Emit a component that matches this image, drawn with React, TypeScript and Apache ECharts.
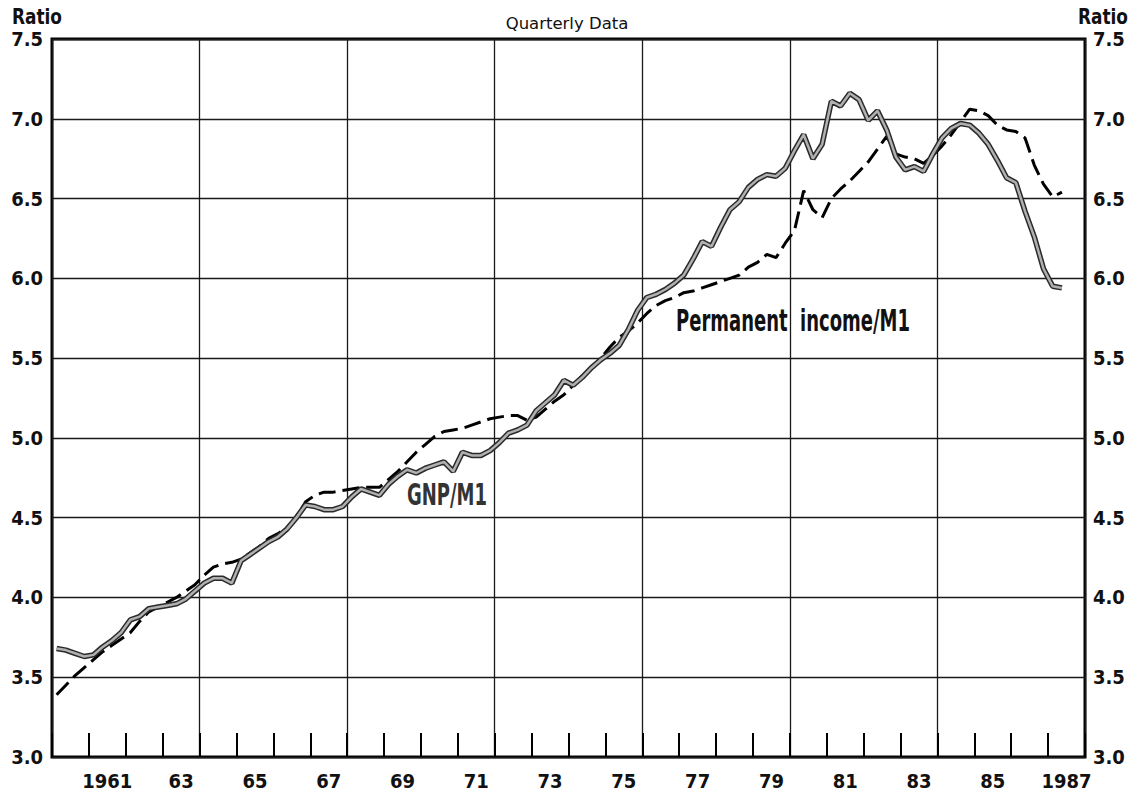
import React, { useEffect, useRef } from "react";
import * as echarts from "echarts";

// Quarterly data, 1960Q1 .. 1987Q2
const startYear = 1960;
const gnpM1 = [
  3.68, 3.67, 3.65, 3.63, 3.64, 3.69, 3.73, 3.78, 3.86, 3.88, 3.93, 3.94,
  3.95, 3.96, 3.99, 4.04, 4.09, 4.12, 4.12, 4.09, 4.23, 4.27, 4.31, 4.35,
  4.38, 4.43, 4.5, 4.58, 4.57, 4.55, 4.55, 4.57, 4.63, 4.68, 4.66, 4.64,
  4.71, 4.76, 4.8, 4.78, 4.81, 4.83, 4.85, 4.79, 4.91, 4.89, 4.89, 4.92,
  4.97, 5.03, 5.05, 5.08, 5.17, 5.22, 5.27, 5.36, 5.33, 5.38, 5.44, 5.49,
  5.53, 5.58, 5.68, 5.8, 5.88, 5.9, 5.93, 5.97, 6.02, 6.12, 6.23, 6.2,
  6.32, 6.43, 6.48, 6.57, 6.62, 6.65, 6.64, 6.69, 6.8, 6.9, 6.75, 6.84,
  7.11, 7.08, 7.16, 7.12, 6.99, 7.05, 6.93, 6.76, 6.68, 6.7, 6.67, 6.78,
  6.88, 6.94, 6.97, 6.96, 6.91, 6.84, 6.74, 6.63, 6.6, 6.42, 6.26, 6.06,
  5.95, 5.94,
];
const permIncomeM1 = [
  3.39, 3.45, 3.51, 3.56, 3.61, 3.66, 3.7, 3.74, 3.78, 3.85, 3.91, 3.94,
  3.97, 4.0, 4.04, 4.08, 4.14, 4.19, 4.21, 4.22, 4.24, 4.28, 4.32, 4.37,
  4.4, 4.44, 4.5, 4.6, 4.64, 4.66, 4.66, 4.67, 4.68, 4.69, 4.69, 4.69,
  4.74, 4.79, 4.85, 4.91, 4.96, 5.01, 5.04, 5.05, 5.06, 5.08, 5.1, 5.12,
  5.13, 5.14, 5.14, 5.11, 5.13, 5.18, 5.23, 5.27, 5.33, 5.39, 5.44, 5.5,
  5.57, 5.63, 5.67, 5.72, 5.78, 5.83, 5.86, 5.88, 5.91, 5.92, 5.94, 5.96,
  5.98, 6.0, 6.02, 6.07, 6.1, 6.15, 6.13, 6.22, 6.3, 6.55, 6.43, 6.38,
  6.5, 6.56, 6.61, 6.67, 6.73, 6.81, 6.89, 6.78, 6.76, 6.75, 6.72, 6.77,
  6.83, 6.9, 6.98, 7.06, 7.05, 7.02, 6.96, 6.93, 6.92, 6.88, 6.71, 6.59,
  6.51, 6.54,
];
const xLabelYears = [1961, 1963, 1965, 1967, 1969, 1971, 1973, 1975, 1977, 1979, 1981, 1983, 1985, 1987];
const xLabelTexts = ["1961", "63", "65", "67", "69", "71", "73", "75", "77", "79", "81", "83", "85", "1987"];
const yMin = 3.0;
const yMax = 7.5;
const yStep = 0.5;

const toPairs = (vals: number[]) => vals.map((v, i) => [startYear + (i + 0.5) / 4, v]);

const LABEL_FONT = '"DejaVu Sans Condensed", "Liberation Sans Narrow", "DejaVu Sans", sans-serif';
const HEAVY = "DejaVu Sans, sans-serif";

export default function App() {
  const ref = useRef<HTMLDivElement>(null);
  useEffect(() => {
    if (!ref.current) return;
    const chart = echarts.init(ref.current, null, { renderer: "svg" });
    const gridLine = { show: true, lineStyle: { color: "#1a1a1a", width: 1.3 } };
    const axisLabelStyle = {
      fontFamily: LABEL_FONT,
      fontWeight: "bold" as const,
      fontSize: 20,
      color: "#111",
    };
    const option: any = {
      animation: false,
      backgroundColor: "#ffffff",
      grid: {
        left: 52,
        right: 56,
        top: 39,
        bottom: 38,
        show: true,
        borderColor: "#000",
        borderWidth: 3,
        backgroundColor: "transparent",
      },
      xAxis: [
        {
          type: "value",
          position: "bottom",
          min: 1960,
          max: 1988,
          interval: 1,
          axisLine: { show: false },
          axisTick: { show: true, inside: true, length: 24, lineStyle: { color: "#000", width: 2 } },
          axisLabel: { show: false },
          splitLine: { show: false },
        },
        {
          type: "value",
          position: "bottom",
          min: 1960,
          max: 1988,
          interval: 4,
          axisLine: { show: false },
          axisTick: { show: false },
          axisLabel: { show: false },
          splitLine: gridLine,
        },
        {
          type: "value",
          position: "bottom",
          offset: 0,
          min: 1960,
          max: 1988,
          interval: 0.5,
          axisLine: { show: false },
          axisTick: { show: false },
          splitLine: { show: false },
          axisLabel: {
            ...axisLabelStyle,
            margin: 14,
            formatter: (v: number) => {
              const idx = xLabelYears.findIndex((y) => Math.abs(y + 0.5 - v) < 1e-6);
              return idx >= 0 ? xLabelTexts[idx] : "";
            },
          },
        },
      ],
      yAxis: [
        {
          type: "value",
          position: "left",
          min: yMin,
          max: yMax,
          interval: yStep,
          axisLine: { show: false },
          axisTick: { show: false },
          splitLine: gridLine,
          axisLabel: { ...axisLabelStyle, margin: 9, formatter: (v: number) => v.toFixed(1) },
        },
        {
          type: "value",
          position: "right",
          min: yMin,
          max: yMax,
          interval: yStep,
          axisLine: { show: false },
          axisTick: { show: false },
          splitLine: { show: false },
          axisLabel: { ...axisLabelStyle, margin: 8, formatter: (v: number) => v.toFixed(1) },
        },
      ],
      series: [
        {
          name: "Permanent income/M1",
          type: "line",
          data: toPairs(permIncomeM1),
          showSymbol: false,
          symbol: "none",
          lineStyle: { color: "#000", width: 3, type: [17, 7] },
          z: 3,
        },
        {
          name: "GNP/M1 outline",
          type: "line",
          data: toPairs(gnpM1),
          symbol: "none",
          lineStyle: { color: "#2a2a2a", width: 5.5 },
          z: 4,
        },
        {
          name: "GNP/M1",
          type: "line",
          data: toPairs(gnpM1),
          symbol: "none",
          lineStyle: { color: "#b0b0b0", width: 2.5 },
          z: 5,
        },
      ],
      graphic: [
        {
          type: "text",
          x: 37,
          y: 17,
          scaleX: 0.77,
          style: { text: "Ratio", font: `bold 22px ${HEAVY}`, fill: "#111", textAlign: "center", textVerticalAlign: "middle", align: "center", verticalAlign: "middle" },
        },
        {
          type: "text",
          x: 1103,
          y: 17,
          scaleX: 0.77,
          style: { text: "Ratio", font: `bold 22px ${HEAVY}`, fill: "#111", textAlign: "center", textVerticalAlign: "middle", align: "center", verticalAlign: "middle" },
        },
        {
          type: "text",
          x: 567,
          y: 24,
          scaleX: 1.1,
          style: { text: "Quarterly Data", font: `15px ${HEAVY}`, fill: "#111", textAlign: "center", textVerticalAlign: "middle", align: "center", verticalAlign: "middle" },
        },
        {
          type: "text",
          x: 447,
          y: 495,
          scaleX: 0.6,
          z: 10,
          style: { text: "GNP/M1", font: `bold 30px ${HEAVY}`, fill: "#333", textAlign: "center", textVerticalAlign: "middle", align: "center", verticalAlign: "middle" },
        },
        {
          type: "text",
          x: 793,
          y: 321,
          scaleX: 0.6,
          z: 10,
          style: { text: "Permanent  income/M1", font: `bold 30px ${HEAVY}`, fill: "#111", textAlign: "center", textVerticalAlign: "middle", align: "center", verticalAlign: "middle" },
        },
      ],
    };
    chart.setOption(option);
    return () => chart.dispose();
  }, []);
  return (
    <div
      ref={ref}
      style={{ position: "fixed", left: 0, top: 0, width: 1141, height: 795, background: "#fff" }}
    />
  );
}
